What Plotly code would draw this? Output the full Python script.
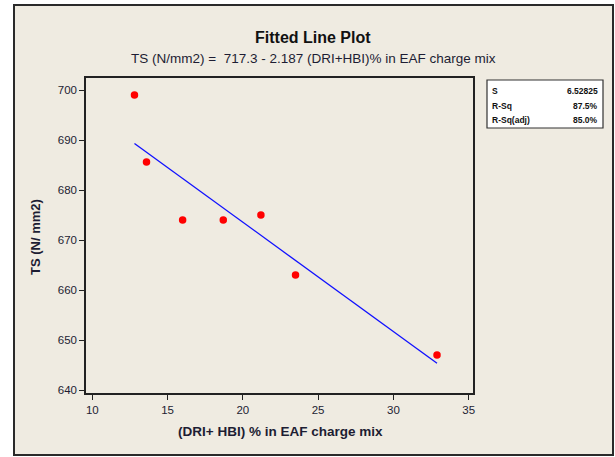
import numpy as np
import plotly.graph_objects as go

# Observed data
dri_hbi_pct = [12.8, 13.6, 16.0, 18.7, 21.2, 23.5, 32.9]
ts_nmm2 = [699.0, 685.6, 674.0, 674.0, 675.0, 663.0, 647.0]

# Regression equation as reported
intercept = 717.3
slope = -2.187

# Summary statistics
stat_names = ["S", "R-Sq", "R-Sq(adj)"]
stat_values = ["6.52825", "87.5%", "85.0%"]

x_ticks = [10, 15, 20, 25, 30, 35]
y_ticks = [640, 650, 660, 670, 680, 690, 700]

fit_x = np.array([min(dri_hbi_pct), max(dri_hbi_pct)])
fit_y = intercept + slope * fit_x

W, H = 615, 457
L, R, T, B = 86, 473, 78, 393
pw, ph = R - L, B - T


def px(x):
    return (x - L) / pw


def py(y):
    return (B - y) / ph


FONT = "Liberation Sans, Arial, sans-serif"
TXT = "#1d1d33"


def label(text, x, y, size, color=TXT, xanchor="center", angle=0):
    return dict(text=text, x=px(x), y=py(y), xref="paper", yref="paper",
                xanchor=xanchor, yanchor="middle", textangle=angle,
                showarrow=False, font=dict(family=FONT, size=size, color=color))


fig = go.Figure()
fig.add_trace(go.Scatter(
    x=fit_x, y=fit_y, mode="lines",
    line=dict(color="#1010ff", width=1.3),
    hoverinfo="skip", showlegend=False,
))
fig.add_trace(go.Scatter(
    x=dri_hbi_pct, y=ts_nmm2, mode="markers",
    marker=dict(color="#ff0000", size=7.5, symbol="circle"),
    showlegend=False,
))

shapes = [
    # outer beige frame
    dict(type="rect", xref="paper", yref="paper",
         x0=px(14), x1=px(613), y0=py(455), y1=py(5),
         fillcolor="#efebe1", line=dict(color="#2a2a2a", width=2), layer="below"),
    # statistics box
    dict(type="rect", xref="paper", yref="paper",
         x0=px(487), x1=px(603), y0=py(128), y1=py(80),
         fillcolor="#ffffff", line=dict(color="#333333", width=1.2), layer="above"),
]

annotations = [
    label("<b>Fitted Line Plot</b>", 313, 37, 16, "#111111"),
    label("TS (N/mm2) =  717.3 - 2.187 (DRI+HBI)% in EAF charge mix", 313, 58, 13.5),
    label("<b>TS (N/ mm2)</b>", 35, 237, 13, angle=-90),
    label("<b>(DRI+ HBI) % in EAF charge mix</b>", 280, 431, 13.5),
]

for i, (name, val) in enumerate(zip(stat_names, stat_values)):
    yy = 91 + i * 14.5
    annotations.append(label(f"<b>{name}</b>", 490, yy, 8.5, "#111111", xanchor="left"))
    annotations.append(label(f"<b>{val}</b>", 600, yy, 8.5, "#111111", xanchor="right"))

axis_common = dict(
    showgrid=False, zeroline=False, showline=True, linecolor="#222222", linewidth=1.5,
    mirror=True, ticks="outside", ticklen=5, tickwidth=1.2, tickcolor="#222222",
    tickfont=dict(family=FONT, size=11.5, color=TXT),
)

fig.update_layout(
    width=W, height=H,
    margin=dict(l=L, r=W - R, t=T, b=H - B),
    paper_bgcolor="#ffffff", plot_bgcolor="#ffffff",
    xaxis=dict(range=[9.58, 35.29], tickvals=x_ticks, **axis_common),
    yaxis=dict(range=[639.4, 702.4], tickvals=y_ticks, **axis_common),
    shapes=shapes, annotations=annotations,
    showlegend=False,
)

fig.write_html("out.html")
